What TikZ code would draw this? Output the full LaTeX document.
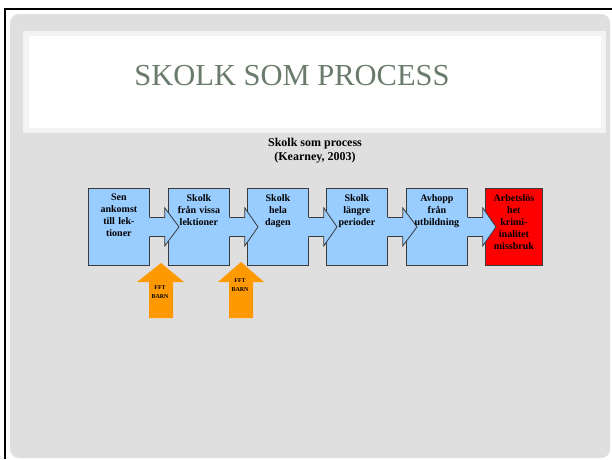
\documentclass[tikz,border=0pt]{standalone}
\usepackage{fontspec}
\setmainfont{Liberation Serif}
\usetikzlibrary{calc}
\definecolor{boxblue}{HTML}{99CCFF}
\definecolor{boxred}{HTML}{FF0000}
\definecolor{arrorange}{HTML}{FF9900}
\definecolor{slidegray}{HTML}{DFDFDF}
\definecolor{bandgray}{HTML}{F3F3F3}
\definecolor{titlecol}{HTML}{6B7B6B}
\definecolor{edgecol}{HTML}{3A3A3A}
\tikzset{
  stepbox/.style={draw=edgecol, line width=0.8pt, fill=boxblue, minimum width=61pt, minimum height=77pt, inner sep=0pt, anchor=north west},
  boxtext/.style={anchor=north, align=center, font=\bfseries\fontsize{10}{12}\selectfont, inner sep=0pt, text width=60pt},
  fftext/.style={align=center, font=\bfseries\fontsize{6}{8.5}\selectfont, inner sep=0pt},
}
\newcommand\blkarrow[2]{%
  \fill[boxblue] ($(#1.east)+(-1,-9.5)$) -- ($(#1.east)+(15,-9.5)$) -- ($(#1.east)+(15,-19)$) -- ($(#2.west)+(11,0)$) -- ($(#1.east)+(15,19)$) -- ($(#1.east)+(15,9.5)$) -- ($(#1.east)+(-1,9.5)$) -- cycle;
  \draw[edgecol, line width=0.8pt, line join=miter] ($(#1.east)+(0,-9.5)$) -- ($(#1.east)+(15,-9.5)$) -- ($(#1.east)+(15,-19)$) -- ($(#2.west)+(11,0)$) -- ($(#1.east)+(15,19)$) -- ($(#1.east)+(15,9.5)$) -- ($(#1.east)+(0,9.5)$);
}
\begin{document}
\begin{tikzpicture}[x=1pt,y=-1pt]
\useasboundingbox (0,0) rectangle (612,459);
\fill[white] (0,0) rectangle (612,459);
% slide background
\fill[slidegray, rounded corners=9pt] (10,14) rectangle (610,458);
\fill[bandgray] (23,31) rectangle (606,133);
\fill[white] (29,36) rectangle (601,128);
% frame lines
\draw[black, line width=2pt] (5,9) -- (612,9);
\draw[black, line width=2pt] (5,8) -- (5,459);
% title
\node[text=titlecol, font=\fontsize{30.5}{34}\selectfont, inner sep=0pt] (title) at (292,76) {SKOLK SOM PROCESS};
% heading
\node[align=center, font=\bfseries\fontsize{12}{14}\selectfont, inner sep=0pt] (head) at (315,151) {Skolk som process\\(Kearney, 2003)};
% boxes
\node[stepbox] (b1) at (88,188) {};
\node[stepbox] (b2) at (168,188) {};
\node[stepbox] (b3) at (247,188) {};
\node[stepbox] (b4) at (326,188) {};
\node[stepbox] (b5) at (406,188) {};
\node[stepbox, fill=boxred, minimum width=57pt] (b6) at (485,188) {};
% connectors
\blkarrow{b1}{b2}
\blkarrow{b2}{b3}
\blkarrow{b3}{b4}
\blkarrow{b4}{b5}
\blkarrow{b5}{b6}
% box texts
\node[boxtext] (t1) at ($(b1.north)+(0,6)$) {Sen\\ankomst\\till lek-\\tioner};
\node[boxtext] (t2) at ($(b2.north)+(0,6)$) {Skolk\\från vissa\\lektioner};
\node[boxtext] (t3) at ($(b3.north)+(0,6)$) {Skolk\\hela\\dagen};
\node[boxtext] (t4) at ($(b4.north)+(0,6)$) {Skolk\\längre\\perioder};
\node[boxtext] (t5) at ($(b5.north)+(0,6)$) {Avhopp\\från\\utbildning};
\node[boxtext, text=black] (t6) at ($(b6.north)+(0,6)$) {Arbetslös\\het\\krimi-\\inalitet\\missbruk};
% orange arrows
\fill[arrorange] (149,318) -- (149,282) -- (137,282) -- (161,263) -- (184,282) -- (173,282) -- (173,318) -- cycle;
\fill[arrorange] (229,318) -- (229,282) -- (218,282) -- (241,262) -- (264,282) -- (253,282) -- (253,318) -- cycle;
\node[fftext] (f1) at (160,292) {FFT\\BARN};
\node[fftext] (f2) at (240,285) {FFT\\BARN};
\end{tikzpicture}
\end{document}
